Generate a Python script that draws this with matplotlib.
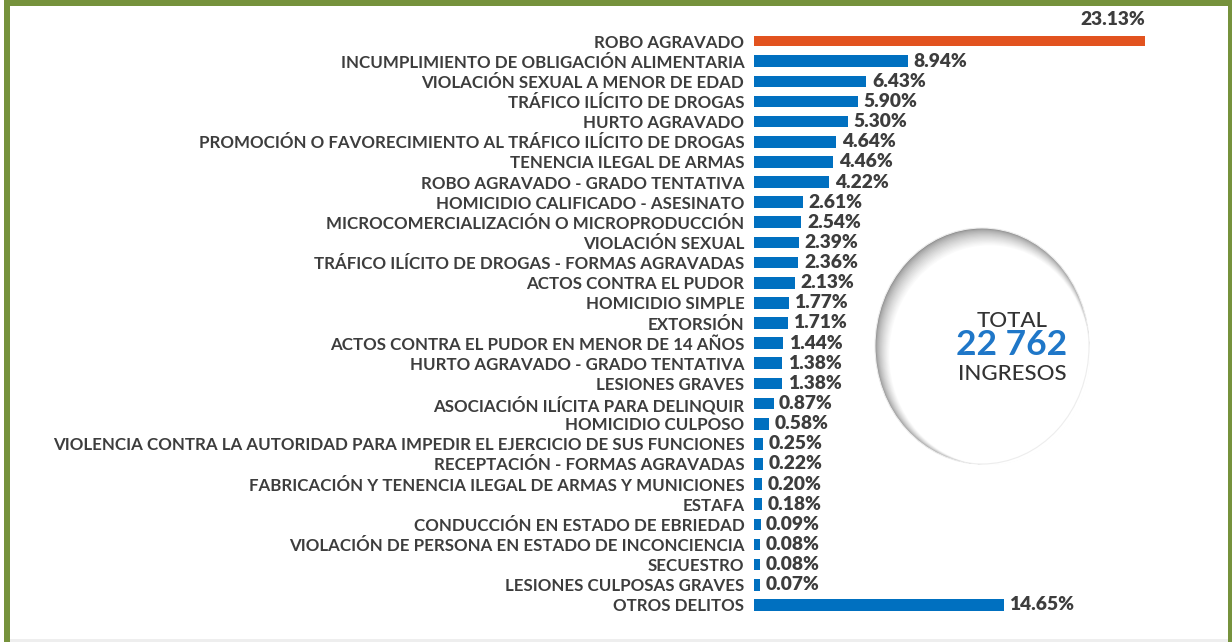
import numpy as np
import matplotlib
matplotlib.use("Agg")
import matplotlib.pyplot as plt
from matplotlib.patches import Ellipse, Rectangle

# data
delitos = [
    "ROBO AGRAVADO",
    "INCUMPLIMIENTO DE OBLIGACIÓN ALIMENTARIA",
    "VIOLACIÓN SEXUAL A MENOR DE EDAD",
    "TRÁFICO ILÍCITO DE DROGAS",
    "HURTO AGRAVADO",
    "PROMOCIÓN O FAVORECIMIENTO AL TRÁFICO ILÍCITO DE DROGAS",
    "TENENCIA ILEGAL DE ARMAS",
    "ROBO AGRAVADO - GRADO TENTATIVA",
    "HOMICIDIO CALIFICADO - ASESINATO",
    "MICROCOMERCIALIZACIÓN O MICROPRODUCCIÓN",
    "VIOLACIÓN SEXUAL",
    "TRÁFICO ILÍCITO DE DROGAS - FORMAS AGRAVADAS",
    "ACTOS CONTRA EL PUDOR",
    "HOMICIDIO SIMPLE",
    "EXTORSIÓN",
    "ACTOS CONTRA EL PUDOR EN MENOR DE 14 AÑOS",
    "HURTO AGRAVADO - GRADO TENTATIVA",
    "LESIONES GRAVES",
    "ASOCIACIÓN ILÍCITA PARA DELINQUIR",
    "HOMICIDIO CULPOSO",
    "VIOLENCIA CONTRA LA AUTORIDAD PARA IMPEDIR EL EJERCICIO DE SUS FUNCIONES",
    "RECEPTACIÓN - FORMAS AGRAVADAS",
    "FABRICACIÓN Y TENENCIA ILEGAL DE ARMAS Y MUNICIONES",
    "ESTAFA",
    "CONDUCCIÓN EN ESTADO DE EBRIEDAD",
    "VIOLACIÓN DE PERSONA EN ESTADO DE INCONCIENCIA",
    "SECUESTRO",
    "LESIONES CULPOSAS GRAVES",
    "OTROS DELITOS",
]
porcentajes = [23.13, 8.94, 6.43, 5.90, 5.30, 4.64, 4.46, 4.22, 2.61, 2.54,
               2.39, 2.36, 2.13, 1.77, 1.71, 1.44, 1.38, 1.38, 0.87, 0.58,
               0.25, 0.22, 0.20, 0.18, 0.09, 0.08, 0.08, 0.07, 14.65]
total_txt = "22 762"

W, H = 1232, 642
gris = "#3d3d3d"
azul = "#0070C0"
rojo = "#E2531F"
verde = "#76923C"

fig = plt.figure(figsize=(W / 100, H / 100), dpi=100)

# background axes in pixel coords (border + ellipse)
bg = fig.add_axes([0, 0, 1, 1])
bg.set_xlim(0, W)
bg.set_ylim(H, 0)
bg.axis("off")
bg.add_patch(Rectangle((4, 0), W - 4, 5.5, color=verde, lw=0))
bg.add_patch(Rectangle((4, 0), 6, H, color=verde, lw=0))
bg.add_patch(Rectangle((1228, 0), 4, H, color=verde, lw=0))
bg.add_patch(Rectangle((10, 639), 1218, 3, color="#eeeeee", lw=0))

# ellipse with soft inner shadow (top-left)
cx, cy, ew, eh = 982, 346, 214, 236
n = 16
for k in range(n):
    t = k / (n - 1)
    c = 0.55 + 0.45 * t ** 0.6
    bg.add_patch(Ellipse((cx + k * 0.5, cy + k * 0.6), ew - k * 0.9, eh - k * 1.1,
                         color=(c, c, c), lw=0))
bg.add_patch(Ellipse((cx + n * 0.5, cy + n * 0.6), ew - n * 0.9, eh - n * 1.1,
                     color="white", lw=0))
bg.add_patch(Ellipse((cx, cy), ew, eh, fill=False, ec="#ededed", lw=0.8))
bg.text(1012, 321, "TOTAL", ha="center", va="center", fontsize=16,
        family="Lato", fontweight="medium", color="#333333")
bg.text(1012, 345, total_txt, ha="center", va="center", fontsize=25.5,
        family="Lato", fontweight="bold", color="#1F77C8")
bg.text(1012, 374, "INGRESOS", ha="center", va="center", fontsize=16,
        family="Lato", fontweight="medium", color="#333333")

# bar axes: value 0 at pixel 759, 16.7 px per %; bars start a bit left of 0
base = 0.3
ppp = 16.7
zero_px = 759
x0 = zero_px - base * ppp
x1 = 1215
ytop, ybot = 31, 615
ax = fig.add_axes([x0 / W, 1 - ybot / H, (x1 - x0) / W, (ybot - ytop) / H])
ax.patch.set_alpha(0)
ax.set_xlim(-base, (x1 - zero_px) / ppp)
ax.set_ylim(len(delitos) - 0.5, -0.5)
y = np.arange(len(delitos))
colores = [rojo] + [azul] * (len(delitos) - 1)
alturas = [0.5] + [0.58] * (len(delitos) - 1)
ax.barh(y, np.array(porcentajes) + base, left=-base, height=alturas,
        color=colores, align="center")
ax.set_yticks(y)
ax.set_yticklabels(delitos, fontsize=12.2, family="Lato", fontweight="bold",
                   color=gris)
ax.tick_params(axis="y", length=0, pad=7)
ax.set_xticks([])
for s in ax.spines.values():
    s.set_visible(False)

for i, v in enumerate(porcentajes):
    if i == 0:
        ax.text(v, -1.05, f"{v:.2f}%", ha="right", va="center", fontsize=13.8,
                family="Lato", fontweight=800, color=gris, clip_on=False)
    else:
        ax.annotate(f"{v:.2f}%", (v, i), xytext=(4, 0), textcoords="offset points",
                    ha="left", va="center", fontsize=13.8, family="Lato",
                    fontweight=800, color=gris)

fig.savefig("out.png", dpi=100)
